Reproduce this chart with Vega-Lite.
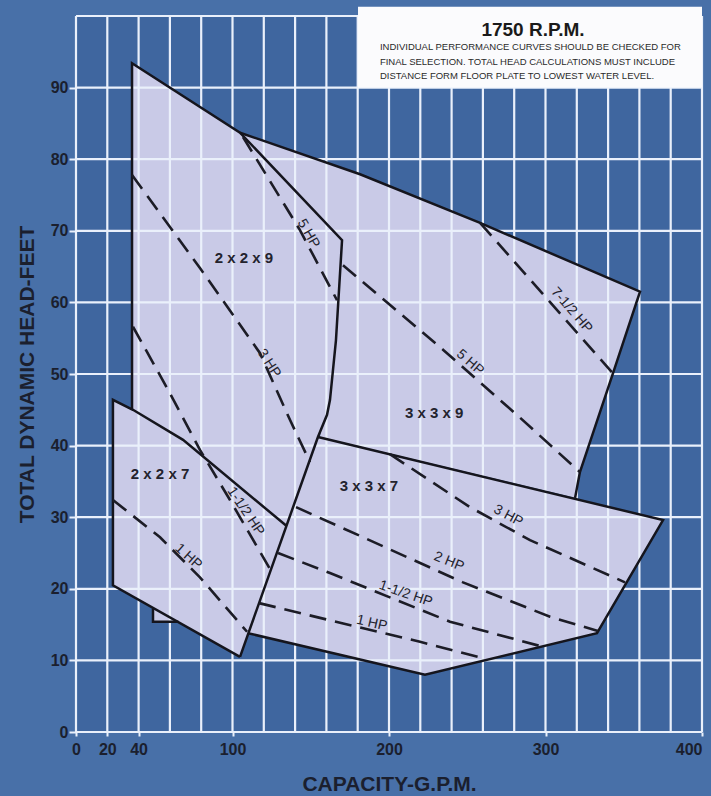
{
  "$schema": "https://vega.github.io/schema/vega-lite/v6.json",
  "width": 626,
  "height": 716,
  "autosize": {"type": "none"},
  "padding": {"left": 76, "top": 16, "right": 9, "bottom": 64},
  "background": "#4870a8",
  "config": {
    "view": {"fill": "#3f669f", "stroke": null},
    "text": {"font": "Liberation Sans", "fontSize": 14, "color": "#23232d", "align": "center", "baseline": "middle"},
    "axis": {
      "grid": false, "domain": false, "ticks": true, "tickColor": "#eaf0fb", "tickWidth": 2,
      "labelFont": "Liberation Sans", "labelFontSize": 16, "labelFontWeight": "bold",
      "labelColor": "#1b1f2e", "labelOverlap": false,
      "titleFont": "Liberation Sans", "titleFontSize": 21, "titleFontWeight": "bold",
      "titleColor": "#1b1f2e"
    },
    "axisX": {"tickSize": 4, "labelPadding": 5, "titlePadding": 16},
    "axisY": {"tickSize": 7, "labelPadding": 1, "titlePadding": 13}
  },
  "datasets": {
    "fills": [
      {"s": "2x2x9", "i": 1, "x": 35.8, "y": 93.4},
      {"s": "2x2x9", "i": 2, "x": 104.8, "y": 83.7},
      {"s": "2x2x9", "i": 3, "x": 170.0, "y": 68.7},
      {"s": "2x2x9", "i": 4, "x": 166.1, "y": 54.7},
      {"s": "2x2x9", "i": 5, "x": 162.3, "y": 46.4},
      {"s": "2x2x9", "i": 6, "x": 160.4, "y": 44.3},
      {"s": "2x2x9", "i": 7, "x": 154.6, "y": 41.2},
      {"s": "2x2x9", "i": 8, "x": 111.2, "y": 14.2},
      {"s": "2x2x9", "i": 9, "x": 67.7, "y": 15.4},
      {"s": "2x2x9", "i": 10, "x": 49.2, "y": 15.4},
      {"s": "2x2x9", "i": 11, "x": 49.2, "y": 18.4},
      {"s": "2x2x9", "i": 12, "x": 35.8, "y": 19.8},
      {"s": "3x3x9", "i": 1, "x": 104.8, "y": 83.7},
      {"s": "3x3x9", "i": 2, "x": 181.5, "y": 77.9},
      {"s": "3x3x9", "i": 3, "x": 258.2, "y": 71.1},
      {"s": "3x3x9", "i": 4, "x": 360.4, "y": 61.5},
      {"s": "3x3x9", "i": 5, "x": 343.1, "y": 50.1},
      {"s": "3x3x9", "i": 6, "x": 322.0, "y": 36.3},
      {"s": "3x3x9", "i": 7, "x": 318.9, "y": 32.7},
      {"s": "3x3x9", "i": 8, "x": 155.9, "y": 41.2},
      {"s": "3x3x9", "i": 9, "x": 170.0, "y": 68.7},
      {"s": "3x3x7", "i": 1, "x": 154.6, "y": 41.2},
      {"s": "3x3x7", "i": 2, "x": 375.1, "y": 29.6},
      {"s": "3x3x7", "i": 3, "x": 332.9, "y": 13.8},
      {"s": "3x3x7", "i": 4, "x": 223.0, "y": 8.0},
      {"s": "3x3x7", "i": 5, "x": 109.9, "y": 13.8},
      {"s": "2x2x7", "i": 1, "x": 23.6, "y": 46.4},
      {"s": "2x2x7", "i": 2, "x": 36.4, "y": 45.0},
      {"s": "2x2x7", "i": 3, "x": 68.4, "y": 40.8},
      {"s": "2x2x7", "i": 4, "x": 134.4, "y": 28.8},
      {"s": "2x2x7", "i": 5, "x": 104.8, "y": 10.5},
      {"s": "2x2x7", "i": 6, "x": 23.6, "y": 20.5}
    ],
    "outlines": [
      {"s": "o1", "i": 1, "x": 35.8, "y": 45.1},
      {"s": "o1", "i": 2, "x": 35.8, "y": 93.4},
      {"s": "o1", "i": 3, "x": 104.8, "y": 83.7},
      {"s": "o1", "i": 4, "x": 170.0, "y": 68.7},
      {"s": "o1", "i": 5, "x": 166.1, "y": 54.7},
      {"s": "o1", "i": 6, "x": 162.3, "y": 46.4},
      {"s": "o1", "i": 7, "x": 160.4, "y": 44.3},
      {"s": "o1", "i": 8, "x": 154.6, "y": 41.2},
      {"s": "o1", "i": 9, "x": 104.8, "y": 10.5},
      {"s": "o3", "i": 1, "x": 104.8, "y": 83.7},
      {"s": "o3", "i": 2, "x": 181.5, "y": 77.9},
      {"s": "o3", "i": 3, "x": 258.2, "y": 71.1},
      {"s": "o3", "i": 4, "x": 360.4, "y": 61.5},
      {"s": "o3", "i": 5, "x": 343.1, "y": 50.1},
      {"s": "o3", "i": 6, "x": 322.0, "y": 36.3},
      {"s": "o3", "i": 7, "x": 318.9, "y": 32.7},
      {"s": "o4", "i": 1, "x": 154.6, "y": 41.2},
      {"s": "o4", "i": 2, "x": 375.1, "y": 29.6},
      {"s": "o4", "i": 3, "x": 332.9, "y": 13.8},
      {"s": "o4", "i": 4, "x": 223.0, "y": 8.0},
      {"s": "o4", "i": 5, "x": 109.9, "y": 13.8},
      {"s": "o5", "i": 1, "x": 134.4, "y": 28.8},
      {"s": "o5", "i": 2, "x": 68.4, "y": 40.8},
      {"s": "o5", "i": 3, "x": 36.4, "y": 45.0},
      {"s": "o5", "i": 4, "x": 23.6, "y": 46.4},
      {"s": "o5", "i": 5, "x": 23.6, "y": 20.5},
      {"s": "o5", "i": 6, "x": 104.8, "y": 10.5},
      {"s": "o6", "i": 1, "x": 49.2, "y": 17.2},
      {"s": "o6", "i": 2, "x": 49.2, "y": 15.4},
      {"s": "o6", "i": 3, "x": 65.4, "y": 15.4}
    ],
    "dashes": [
      {"s": "A", "i": 1, "x": 106.7, "y": 83.1},
      {"s": "A", "i": 2, "x": 143.1, "y": 70.1},
      {"s": "A", "i": 3, "x": 166.8, "y": 60.3},
      {"s": "B", "i": 1, "x": 35.8, "y": 77.8},
      {"s": "B", "i": 2, "x": 79.2, "y": 64.8},
      {"s": "B", "i": 3, "x": 117.6, "y": 52.9},
      {"s": "B", "i": 4, "x": 136.7, "y": 43.6},
      {"s": "B", "i": 5, "x": 149.5, "y": 37.7},
      {"s": "C", "i": 1, "x": 36.4, "y": 56.6},
      {"s": "C", "i": 2, "x": 58.8, "y": 47.8},
      {"s": "C", "i": 3, "x": 79.2, "y": 39.4},
      {"s": "C", "i": 4, "x": 98.4, "y": 32.4},
      {"s": "C", "i": 5, "x": 125.2, "y": 22.3},
      {"s": "D", "i": 1, "x": 23.6, "y": 32.4},
      {"s": "D", "i": 2, "x": 53.7, "y": 27.2},
      {"s": "D", "i": 3, "x": 79.2, "y": 21.6},
      {"s": "D", "i": 4, "x": 109.3, "y": 14.0},
      {"s": "E", "i": 1, "x": 170.6, "y": 65.2},
      {"s": "E", "i": 2, "x": 234.5, "y": 53.4},
      {"s": "E", "i": 3, "x": 283.7, "y": 43.9},
      {"s": "E", "i": 4, "x": 322.0, "y": 36.3},
      {"s": "F", "i": 1, "x": 258.2, "y": 71.1},
      {"s": "F", "i": 2, "x": 343.1, "y": 50.1},
      {"s": "G", "i": 1, "x": 200.6, "y": 38.8},
      {"s": "G", "i": 2, "x": 251.8, "y": 31.4},
      {"s": "G", "i": 3, "x": 290.1, "y": 26.8},
      {"s": "G", "i": 4, "x": 350.8, "y": 20.9},
      {"s": "H", "i": 1, "x": 140.6, "y": 31.4},
      {"s": "H", "i": 2, "x": 183.4, "y": 27.2},
      {"s": "H", "i": 3, "x": 247.3, "y": 20.9},
      {"s": "H", "i": 4, "x": 302.9, "y": 16.1},
      {"s": "H", "i": 5, "x": 333.5, "y": 14.1},
      {"s": "I", "i": 1, "x": 129.1, "y": 25.0},
      {"s": "I", "i": 2, "x": 162.3, "y": 22.2},
      {"s": "I", "i": 3, "x": 239.0, "y": 15.4},
      {"s": "I", "i": 4, "x": 298.4, "y": 11.9},
      {"s": "J", "i": 1, "x": 117.0, "y": 18.0},
      {"s": "J", "i": 2, "x": 162.3, "y": 15.6},
      {"s": "J", "i": 3, "x": 219.8, "y": 12.6},
      {"s": "J", "i": 4, "x": 260.1, "y": 10.3}
    ],
    "gridx": [
      {"x": 0}, {"x": 20}, {"x": 40}, {"x": 60}, {"x": 80}, {"x": 100}, {"x": 120},
      {"x": 140}, {"x": 160}, {"x": 180}, {"x": 200}, {"x": 220}, {"x": 240},
      {"x": 260}, {"x": 280}, {"x": 300}, {"x": 320}, {"x": 340}, {"x": 360},
      {"x": 380}, {"x": 400}
    ],
    "gridy": [
      {"y": 0}, {"y": 10}, {"y": 20}, {"y": 30}, {"y": 40}, {"y": 50},
      {"y": 60}, {"y": 70}, {"y": 80}, {"y": 90}, {"y": 100}
    ],
    "regions": [
      {"x": 107.3, "y": 66.2, "t": "2 x 2 x 9"},
      {"x": 228.8, "y": 44.5, "t": "3 x 3 x 9"},
      {"x": 187.2, "y": 34.3, "t": "3 x 3 x 7"},
      {"x": 53.7, "y": 36.1, "t": "2 x 2 x 7"}
    ],
    "hp": [
      {"k": 1, "x": 148.5, "y": 69.6, "t": "5 HP"},
      {"k": 2, "x": 123.3, "y": 51.5, "t": "3 HP"},
      {"k": 3, "x": 108.4, "y": 30.8, "t": "1-1/2 HP"},
      {"k": 4, "x": 71.8, "y": 24.5, "t": "1 HP"},
      {"k": 5, "x": 251.8, "y": 51.6, "t": "5 HP"},
      {"k": 6, "x": 316.7, "y": 58.9, "t": "7-1/2 HP"},
      {"k": 7, "x": 276.2, "y": 30.2, "t": "3 HP"},
      {"k": 8, "x": 238.3, "y": 23.8, "t": "2 HP"},
      {"k": 9, "x": 210.7, "y": 19.3, "t": "1-1/2 HP"},
      {"k": 10, "x": 189.0, "y": 15.2, "t": "1 HP"}
    ]
  },
  "layer": [
    {
      "data": {"name": "fills"},
      "mark": {"type": "line", "fill": "#c9cae7", "strokeWidth": 0, "interpolate": "linear"},
      "encoding": {
        "x": {
          "field": "x", "type": "quantitative",
          "scale": {"domain": [0, 400], "nice": false, "zero": false},
          "title": "CAPACITY-G.P.M.",
          "axis": {
            "values": [0, 20, 40, 100, 200, 300, 400],
            "labelAlign": {"condition": {"test": "datum.value == 400", "value": "right"}, "value": "center"}
          }
        },
        "y": {
          "field": "y", "type": "quantitative",
          "scale": {"domain": [0, 100], "nice": false, "zero": false},
          "title": "TOTAL DYNAMIC HEAD-FEET",
          "axis": {"values": [0, 10, 20, 30, 40, 50, 60, 70, 80, 90]}
        },
        "detail": {"field": "s"},
        "order": {"field": "i"}
      }
    },
    {
      "data": {"name": "gridx"},
      "mark": {"type": "rule", "color": "#eaf0fb", "strokeWidth": 2.2},
      "encoding": {
        "x": {"field": "x", "type": "quantitative", "title": "CAPACITY-G.P.M."}
      }
    },
    {
      "data": {"name": "gridy"},
      "mark": {"type": "rule", "color": "#eaf0fb", "strokeWidth": 2.2},
      "encoding": {
        "y": {"field": "y", "type": "quantitative", "title": "TOTAL DYNAMIC HEAD-FEET"}
      }
    },
    {
      "data": {"name": "outlines"},
      "mark": {"type": "line", "color": "#15151d", "strokeWidth": 2.5, "interpolate": "linear"},
      "encoding": {
        "x": {"field": "x", "type": "quantitative", "title": "CAPACITY-G.P.M."},
        "y": {"field": "y", "type": "quantitative", "title": "TOTAL DYNAMIC HEAD-FEET"},
        "detail": {"field": "s"},
        "order": {"field": "i"}
      }
    },
    {
      "data": {"name": "dashes"},
      "mark": {"type": "line", "color": "#1c1c26", "strokeWidth": 2.6, "strokeDash": [17, 9], "interpolate": "linear"},
      "encoding": {
        "x": {"field": "x", "type": "quantitative", "title": "CAPACITY-G.P.M."},
        "y": {"field": "y", "type": "quantitative", "title": "TOTAL DYNAMIC HEAD-FEET"},
        "detail": {"field": "s"},
        "order": {"field": "i"}
      }
    },
    {
      "data": {"name": "regions"},
      "mark": {"type": "text", "fontSize": 15, "fontWeight": "bold"},
      "encoding": {
        "x": {"field": "x", "type": "quantitative", "title": "CAPACITY-G.P.M."},
        "y": {"field": "y", "type": "quantitative", "title": "TOTAL DYNAMIC HEAD-FEET"},
        "text": {"field": "t"}
      }
    },
    {
      "data": {"name": "hp"},
      "layer": [
        {"transform": [{"filter": "datum.k == 1"}], "mark": {"type": "text", "angle": 60}},
        {"transform": [{"filter": "datum.k == 2"}], "mark": {"type": "text", "angle": 57}},
        {"transform": [{"filter": "datum.k == 3"}], "mark": {"type": "text", "angle": 56}},
        {"transform": [{"filter": "datum.k == 4"}], "mark": {"type": "text", "angle": 42}},
        {"transform": [{"filter": "datum.k == 5"}], "mark": {"type": "text", "angle": 41}},
        {"transform": [{"filter": "datum.k == 6"}], "mark": {"type": "text", "angle": 49}},
        {"transform": [{"filter": "datum.k == 7"}], "mark": {"type": "text", "angle": 28}},
        {"transform": [{"filter": "datum.k == 8"}], "mark": {"type": "text", "angle": 22}},
        {"transform": [{"filter": "datum.k == 9"}], "mark": {"type": "text", "angle": 19}},
        {"transform": [{"filter": "datum.k == 10"}], "mark": {"type": "text", "angle": 13}}
      ],
      "encoding": {
        "x": {"field": "x", "type": "quantitative", "title": "CAPACITY-G.P.M."},
        "y": {"field": "y", "type": "quantitative", "title": "TOTAL DYNAMIC HEAD-FEET"},
        "text": {"field": "t"}
      }
    },
    {
      "data": {"values": [{"x": 180.2, "x2": 400, "y": 90, "y2": 101.3}]},
      "mark": {"type": "rect", "color": "#fbfbfd"},
      "encoding": {
        "x": {"field": "x", "type": "quantitative", "title": "CAPACITY-G.P.M."},
        "x2": {"field": "x2"},
        "y": {"field": "y", "type": "quantitative", "title": "TOTAL DYNAMIC HEAD-FEET"},
        "y2": {"field": "y2"}
      }
    },
    {
      "data": {"values": [{"x": 292.0, "y": 98.0, "t": "1750 R.P.M."}]},
      "mark": {"type": "text", "fontSize": 19, "fontWeight": "bold", "color": "#1a1a1a"},
      "encoding": {
        "x": {"field": "x", "type": "quantitative", "title": "CAPACITY-G.P.M."},
        "y": {"field": "y", "type": "quantitative", "title": "TOTAL DYNAMIC HEAD-FEET"},
        "text": {"field": "t"}
      }
    },
    {
      "data": {"values": [
        {"x": 194.2, "y": 95.7, "t": "INDIVIDUAL PERFORMANCE CURVES SHOULD BE CHECKED FOR"},
        {"x": 194.2, "y": 93.6, "t": "FINAL SELECTION.  TOTAL HEAD CALCULATIONS MUST INCLUDE"},
        {"x": 194.2, "y": 91.6, "t": "DISTANCE FORM FLOOR PLATE TO LOWEST WATER LEVEL."}
      ]},
      "mark": {"type": "text", "fontSize": 9.5, "color": "#2a2a2a", "align": "left"},
      "encoding": {
        "x": {"field": "x", "type": "quantitative", "title": "CAPACITY-G.P.M."},
        "y": {"field": "y", "type": "quantitative", "title": "TOTAL DYNAMIC HEAD-FEET"},
        "text": {"field": "t"}
      }
    }
  ]
}
